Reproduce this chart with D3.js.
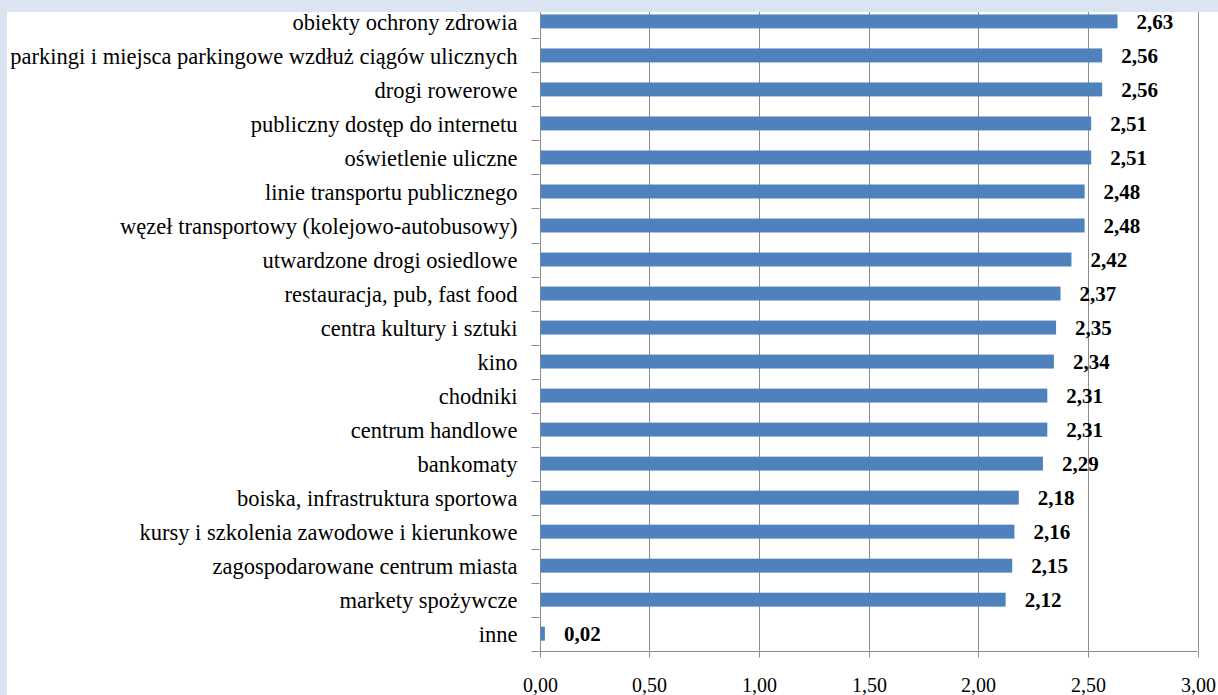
<!DOCTYPE html>
<html>
<head>
<meta charset="utf-8">
<script src="https://cdnjs.cloudflare.com/ajax/libs/d3/7.8.5/d3.min.js"></script>
<style>
  html, body { margin: 0; padding: 0; background: #ffffff; }
  svg { display: block; }
</style>
</head>
<body>
<svg id="chart" width="1218" height="695"></svg>
<script>
const categories = [
  "obiekty ochrony zdrowia",
  "parkingi i miejsca parkingowe wzdłuż ciągów ulicznych",
  "drogi rowerowe",
  "publiczny dostęp do internetu",
  "oświetlenie uliczne",
  "linie transportu publicznego",
  "węzeł transportowy (kolejowo-autobusowy)",
  "utwardzone drogi osiedlowe",
  "restauracja, pub, fast food",
  "centra kultury i sztuki",
  "kino",
  "chodniki",
  "centrum handlowe",
  "bankomaty",
  "boiska, infrastruktura sportowa",
  "kursy i szkolenia zawodowe i kierunkowe",
  "zagospodarowane centrum miasta",
  "markety spożywcze",
  "inne"
];
const values = [2.63, 2.56, 2.56, 2.51, 2.51, 2.48, 2.48, 2.42, 2.37, 2.35, 2.34, 2.31, 2.31, 2.29, 2.18, 2.16, 2.15, 2.12, 0.02];
const xTicks = [0, 0.5, 1, 1.5, 2, 2.5, 3];

(function () {
const W = 1218, H = 695;
const pLeft = 539.5, pRight = 1197.7, pTop = 4.4, pBottom = 650.7;
const fmt = v => d3.format(".2f")(v).replace(".", ",");

const svg = d3.select("#chart");
const FONT = "'Liberation Serif', 'Times New Roman', serif";

svg.append("rect").attr("x", 0).attr("y", 0).attr("width", W).attr("height", H).attr("fill", "#ffffff");

const x = d3.scaleLinear().domain([0, 3]).range([pLeft, pRight]);
const y = d3.scaleBand().domain(categories).range([pTop, pBottom]).paddingInner(0.59).paddingOuter(0.295);

const gridColor = "#8c8c8c";

// vertical gridlines
svg.append("g").selectAll("line").data(xTicks.slice(1)).join("line")
  .attr("x1", d => Math.round(x(d)) + 0.5).attr("x2", d => Math.round(x(d)) + 0.5)
  .attr("y1", pTop).attr("y2", pBottom)
  .attr("stroke", gridColor).attr("stroke-width", 1);

// x axis
const xAxis = d3.axisBottom(x).tickValues(xTicks).tickSize(6).tickFormat(fmt);
const gx = svg.append("g").attr("transform", `translate(0,${Math.round(pBottom) + 0.5})`).call(xAxis);
gx.select(".domain").attr("stroke", gridColor).attr("d", `M${pLeft},0H${pRight}`);
gx.selectAll(".tick line").attr("stroke", gridColor);
gx.selectAll(".tick").attr("transform", d => `translate(${Math.round(x(d)) + 0.5},0)`);
gx.selectAll(".tick text")
  .attr("y", 0).attr("dy", null)
  .attr("transform", "translate(0,40)")
  .style("font-family", FONT).style("font-size", "20px").attr("fill", "#000");

// y axis line & ticks at band boundaries
const step = y.step();
const boundaries = d3.range(categories.length + 1).map(i => pTop + i * step);
svg.append("line")
  .attr("x1", Math.round(pLeft) + 0.5).attr("x2", Math.round(pLeft) + 0.5)
  .attr("y1", pTop).attr("y2", pBottom + 6)
  .attr("stroke", gridColor);
svg.append("g").selectAll("line").data(boundaries).join("line")
  .attr("x1", pLeft - 8).attr("x2", pLeft)
  .attr("y1", d => Math.round(d) + 0.5).attr("y2", d => Math.round(d) + 0.5)
  .attr("stroke", gridColor);

// bars
svg.append("g").selectAll("rect").data(values).join("rect")
  .attr("x", x(0) + 1)
  .attr("y", (d, i) => y(categories[i]))
  .attr("width", d => x(d) - x(0))
  .attr("height", y.bandwidth())
  .attr("fill", "#4f81bd");

// category labels
svg.append("g").selectAll("text").data(categories).join("text")
  .attr("x", pLeft - 22)
  .attr("y", d => y(d) + y.bandwidth() / 2)
  .attr("dy", "0.36em")
  .attr("text-anchor", "end")
  .style("font-family", FONT).style("font-size", "22.5px")
  .attr("fill", "#000")
  .text(d => d);

// value labels
svg.append("g").selectAll("text").data(values).join("text")
  .attr("x", d => x(d) + 20)
  .attr("y", (d, i) => y(categories[i]) + y.bandwidth() / 2)
  .attr("dy", "0.36em")
  .attr("text-anchor", "start")
  .style("font-family", FONT).style("font-size", "21px").style("font-weight", "bold")
  .attr("fill", "#000")
  .text(d => fmt(d));

// light blue frame (top and left)
svg.append("rect").attr("x", 0).attr("y", 0).attr("width", W).attr("height", 12).attr("fill", "#dbe5f1");
svg.append("rect").attr("x", 0).attr("y", 0).attr("width", 7).attr("height", H).attr("fill", "#dbe5f1");
})();
</script>
</body>
</html>
